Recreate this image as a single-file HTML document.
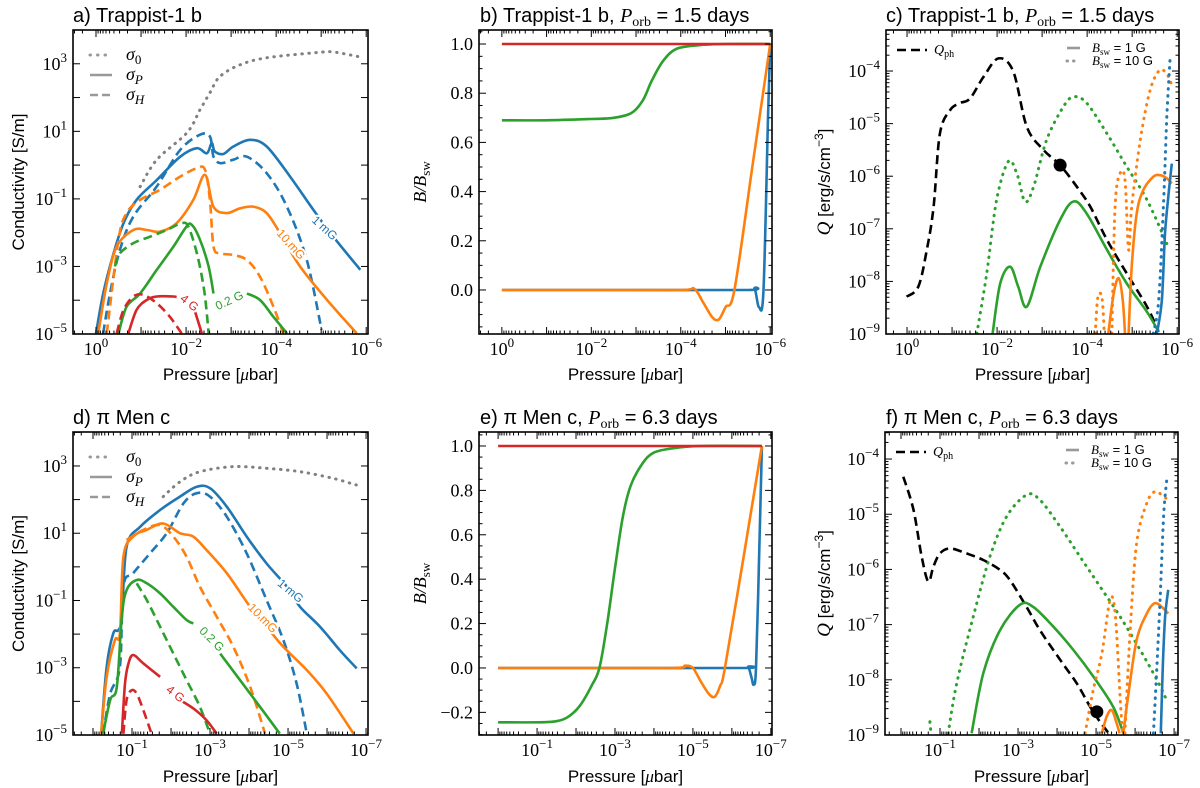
<!DOCTYPE html>
<html><head><meta charset="utf-8"><style>
html,body{margin:0;padding:0;background:#fff;}
svg{display:block;font-family:"Liberation Sans",sans-serif;}
.tl{font-family:"Liberation Serif",serif;font-size:18px;fill:#000;}
.ax{font-size:17px;fill:#000;}
.tt{font-size:20px;fill:#000;}
.cl{font-size:12px;paint-order:stroke;stroke:#fff;stroke-width:4px;}
</style></head><body>
<svg id="fig" width="1200" height="788" viewBox="0 0 1200 788" xmlns="http://www.w3.org/2000/svg"></svg>
<script>
// ===== Panel a: Trappist-1 b conductivity (log10 P [μbar], log10 σ [S/m]) =====
const a_s0_P=[-0.98,-1.35,-2.02,-2.31,-2.53,-2.75,-3.2,-3.8,-4.9,-5.27,-5.87];
const a_s0_V=[-0.64,0.16,0.96,1.64,2.14,2.62,2.97,3.18,3.33,3.35,3.2];
const a_b1P_P=[0,-0.16,-0.39,-0.61,-0.9,-1.35,-1.87,-2.24,-2.46,-2.57,-2.64,-2.83,-3.05,-3.42,-3.79,-4.31,-4.83,-5.27,-5.87];
const a_b1P_V=[-4.98,-3.8,-2.61,-1.72,-1.03,-0.44,0.25,0.5,0.35,0.65,0.4,0.33,0.55,0.75,0.55,-0.34,-1.33,-2.12,-3.1];
const a_b1H_P=[-0.16,-0.31,-0.53,-0.83,-1.35,-1.87,-2.31,-2.53,-2.61,-2.76,-3.05,-3.35,-3.79,-4.24,-4.68,-5.01];
const a_b1H_V=[-4.98,-3.8,-2.51,-1.52,-0.63,0.45,0.9,0.85,0.25,0.06,0.16,0.25,-0.24,-1.23,-2.81,-4.88];
const a_o10P_P=[-0.05,-0.24,-0.46,-0.83,-1.13,-1.42,-1.79,-2.16,-2.42,-2.61,-2.9,-3.2,-3.5,-3.79,-4.09,-4.53,-5.13,-5.79];
const a_o10P_V=[-4.98,-3.5,-2.41,-1.92,-1.92,-1.97,-1.72,-1.03,-0.29,-1.23,-1.42,-1.28,-1.23,-1.42,-2.02,-3.0,-3.99,-4.98];
const a_o10H_P=[-0.24,-0.5,-0.68,-0.98,-1.42,-1.87,-2.24,-2.42,-2.53,-2.61,-2.76,-3.05,-3.35,-3.64,-3.94,-4.16];
const a_o10H_V=[-4.98,-2.21,-1.42,-1.03,-0.73,-0.34,-0.09,-0.14,-1.03,-2.41,-2.61,-2.66,-2.81,-3.3,-4.19,-4.98];
const a_g02P_P=[-0.5,-0.68,-0.98,-1.35,-1.72,-2.01,-2.13,-2.31,-2.5,-2.61];
const a_g02P_V=[-4.98,-4.19,-3.8,-3.1,-2.41,-1.82,-1.77,-2.21,-3.0,-3.8];
const a_g02Pb_P=[-3.35,-3.64,-3.94,-4.24];
const a_g02Pb_V=[-3.8,-3.99,-4.49,-4.98];
const a_g02H_P=[-0.42,-0.53,-0.83,-1.2,-1.57,-1.9,-2.05,-2.24,-2.39,-2.46,-2.5];
const a_g02H_V=[-3.0,-2.61,-2.31,-2.12,-1.92,-1.72,-1.82,-2.61,-3.6,-4.39,-4.98];
const a_r4P_P=[-0.72,-0.9,-1.13,-1.35,-1.72,-1.79];
const a_r4P_V=[-4.98,-4.29,-3.99,-3.89,-3.89,-3.91];
const a_r4Pb_P=[-2.2,-2.35];
const a_r4Pb_V=[-4.34,-4.98];
const a_r4H_P=[-0.46,-0.61,-0.83,-1.05,-1.35,-1.64,-1.9];
const a_r4H_V=[-4.98,-4.29,-3.89,-3.84,-4.09,-4.49,-4.98];
// ===== Panel b: B/Bsw (log10 P, linear ratio) =====
const b_red_P=[0,-6];const b_red_V=[1,1];
const b_grn_P=[0,-1,-2,-2.5,-2.9,-3.15,-3.35,-3.6,-3.9,-4.4,-5,-6];
const b_grn_V=[0.69,0.69,0.695,0.70,0.72,0.77,0.85,0.93,0.98,0.995,1,1];
const b_org_P=[0,-2,-4.0,-4.3,-4.5,-4.7,-4.85,-5.0,-5.2,-5.6,-6];
const b_org_V=[0,0,0,0.005,-0.05,-0.11,-0.12,-0.07,0.0,0.5,1];
const b_blu_P=[0,-3,-5.5,-5.65,-5.75,-5.85,-5.95,-6];
const b_blu_V=[0,0,0,0.005,-0.07,0.0,0.7,1];
// ===== Panel c: heating rate (log10 P, log10 Q) =====
const c_qph_P=[0.01,-0.25,-0.44,-0.59,-0.73,-0.96,-1.18,-1.4,-1.7,-2.03,-2.36,-2.66,-3.03,-3.4,-3.77,-4.07,-4.44,-4.88,-5.33,-5.59];
const c_qph_V=[-8.29,-8.1,-7.4,-6.58,-5.19,-4.74,-4.61,-4.52,-4.11,-3.76,-4.01,-5.06,-5.5,-5.79,-6.2,-6.58,-7.21,-7.85,-8.48,-8.96];
const c_dot_P=[-3.4];const c_dot_V=[-5.79];
const c_g10_P=[-1.55,-1.77,-1.99,-2.25,-2.44,-2.62,-2.81,-3.1,-3.47,-3.7,-3.99,-4.44,-4.88,-5.33,-5.77];
const c_g10_V=[-8.99,-7.85,-6.45,-5.72,-5.95,-6.48,-6.2,-5.31,-4.68,-4.49,-4.61,-5.19,-5.82,-6.45,-7.28];
const c_g1_P=[-1.9,-2.07,-2.29,-2.47,-2.66,-2.96,-3.4,-3.7,-3.99,-4.44,-4.88,-5.33,-5.59];
const c_g1_V=[-8.99,-8.04,-7.72,-8.1,-8.48,-7.72,-6.83,-6.48,-6.71,-7.4,-8.04,-8.58,-8.96];
const c_o10a_P=[-4.18,-4.24,-4.33,-4.38];const c_o10a_V=[-8.99,-8.29,-8.32,-8.99];
const c_o10b_P=[-4.55,-4.62,-4.73,-4.84,-4.92,-4.99,-5.18,-5.4,-5.62,-5.81,-5.88];
const c_o10b_V=[-8.99,-6.58,-5.95,-6.07,-7.4,-6.58,-5.31,-4.36,-3.98,-4.11,-4.3];
const c_o1a_P=[-4.47,-4.59,-4.7,-4.79,-4.84];const c_o1a_V=[-8.99,-8.23,-7.94,-8.35,-8.99];
const c_o1b_P=[-4.92,-4.99,-5.1,-5.25,-5.47,-5.62,-5.77,-5.88];
const c_o1b_V=[-8.99,-7.72,-6.71,-6.26,-6.01,-5.98,-6.04,-6.14];
const c_b10_P=[-5.47,-5.59,-5.7,-5.77,-5.84];const c_b10_V=[-8.99,-8.35,-6.45,-4.87,-3.79];
const c_b1_P=[-5.55,-5.66,-5.73,-5.81,-5.88];const c_b1_V=[-8.99,-8.35,-7.09,-6.33,-5.76];
// ===== Panel d: pi Men c conductivity =====
const d_s0_P=[-1.8,-2.23,-2.74,-3.6,-4.45,-5.31,-6.16,-6.76];
const d_s0_V=[2.09,2.53,2.83,2.98,2.93,2.83,2.63,2.43];
const d_b1P_P=[-0.21,-0.35,-0.52,-0.65,-0.74,-0.86,-1.21,-1.72,-2.23,-2.66,-3.0,-3.43,-3.94,-4.45,-4.97,-5.31,-5.82,-6.33,-6.76];
const d_b1P_V=[-4.96,-2.97,-1.98,-1.88,-1.48,0.6,1.19,1.69,2.09,2.38,2.34,1.79,0.9,0.1,-0.59,-1.19,-1.78,-2.48,-3.02];
const d_b1H_P=[-0.26,-0.44,-0.69,-0.78,-1.03,-1.46,-1.89,-2.32,-2.66,-3.0,-3.43,-3.94,-4.45,-4.88,-5.22,-5.48];
const d_b1H_V=[-4.96,-3.77,-2.97,-0.59,-0.19,0.4,1.0,1.89,2.19,2.09,1.49,0.4,-0.99,-2.18,-3.47,-4.96];
const d_o10P_P=[-0.21,-0.35,-0.56,-0.69,-0.78,-1.03,-1.38,-1.8,-2.23,-2.57,-2.91,-3.43,-4.03,-4.45,-4.88,-5.48,-5.99,-6.68];
const d_o10P_V=[-4.96,-3.27,-2.18,-1.98,0.3,0.9,1.1,1.29,1.0,0.9,0.5,-0.19,-1.19,-1.78,-2.38,-3.07,-3.77,-4.96];
const d_o10H_P=[-0.86,-1.29,-1.72,-2.06,-2.4,-2.74,-3.17,-3.6,-4.03,-4.41];
const d_o10H_V=[0.8,1.1,1.24,0.9,0.3,-0.59,-1.48,-2.38,-3.57,-4.96];
const d_g02P_P=[-0.26,-0.44,-0.61,-0.74,-0.86,-1.12,-1.38,-1.72,-2.06,-2.4,-2.57];
const d_g02P_V=[-4.96,-3.96,-3.57,-1.48,-0.69,-0.39,-0.49,-0.79,-1.19,-1.58,-1.68];
const d_g02Pb_P=[-3.26,-3.77,-4.28,-4.79];const d_g02Pb_V=[-2.58,-3.37,-4.16,-4.96];
const d_g02H_P=[-1.12,-1.38,-1.72,-2.06,-2.4,-2.74,-3.0];
const d_g02H_V=[-0.49,-0.99,-1.78,-2.58,-3.37,-4.16,-4.96];
const d_r4P_P=[-0.74,-0.82,-0.91,-1.03,-1.29,-1.72];const d_r4P_V=[-4.96,-3.47,-2.87,-2.62,-2.87,-3.27];
const d_r4Pb_P=[-2.23,-2.57,-2.91,-3.17];const d_r4Pb_V=[-3.96,-4.21,-4.56,-4.96];
const d_r4H_P=[-0.78,-0.86,-0.99,-1.12,-1.29,-1.5];const d_r4H_V=[-4.96,-3.96,-3.67,-3.77,-4.26,-4.96];
// ===== Panel e: B/Bsw =====
const e_red_P=[0,-6.77];const e_red_V=[1,1];
const e_grn_P=[0,-1,-1.5,-1.8,-2.1,-2.4,-2.6,-2.8,-3.0,-3.2,-3.4,-3.7,-4.0,-4.5,-5.2,-6.77];
const e_grn_V=[-0.245,-0.245,-0.24,-0.22,-0.17,-0.08,0.0,0.2,0.45,0.68,0.82,0.92,0.97,0.99,1,1];
const e_org_P=[0,-2,-4.5,-4.8,-5.0,-5.2,-5.4,-5.56,-5.7,-5.82,-6.3,-6.77];
const e_org_V=[0,0,0,0.01,0.0,-0.06,-0.115,-0.13,-0.08,0,0.5,1];
const e_blu_P=[0,-3,-6.3,-6.42,-6.5,-6.56,-6.62,-6.7,-6.77];
const e_blu_V=[0,0,0,0.005,-0.04,-0.075,0.0,0.5,1];
// ===== Panel f: heating rate =====
const f_qph_P=[-0.06,-0.32,-0.53,-0.7,-0.83,-1.0,-1.26,-1.68,-2.11,-2.54,-2.79,-3.22,-3.56,-4.08,-4.5,-4.85,-5.1,-5.36];
const f_qph_V=[-4.32,-4.92,-5.77,-6.22,-5.95,-5.71,-5.62,-5.71,-5.83,-6.01,-6.19,-6.68,-7.1,-7.64,-8.06,-8.49,-8.76,-9.0];
const f_dot_P=[-5.02];const f_dot_V=[-8.58];
const f_g10s_P=[-0.74,-0.77];const f_g10s_V=[-8.76,-8.97];
const f_g10_P=[-1.21,-1.43,-1.85,-2.28,-2.71,-3.22,-3.56,-4.08,-4.59,-5.1,-5.62,-6.13,-6.56,-6.81];
const f_g10_V=[-8.97,-8.06,-6.86,-5.77,-5.04,-4.65,-4.74,-5.23,-5.77,-6.31,-6.86,-7.46,-8.0,-8.37];
const f_g1_P=[-1.81,-2.11,-2.54,-3.05,-3.39,-3.91,-4.42,-4.93,-5.44,-5.7];
const f_g1_V=[-8.97,-7.88,-7.1,-6.64,-6.68,-7.04,-7.46,-7.94,-8.49,-8.97];
const f_o10a_P=[-4.72,-4.93,-5.15,-5.36,-5.49,-5.62,-5.68];const f_o10a_V=[-8.97,-8.18,-7.52,-6.55,-6.8,-8.37,-8.97];
const f_o10b_P=[-5.74,-5.87,-6.04,-6.3,-6.51,-6.73,-6.85];const f_o10b_V=[-8.97,-7.16,-5.53,-4.8,-4.59,-4.68,-4.74];
const f_o1a_P=[-5.15,-5.27,-5.4,-5.53,-5.6];const f_o1a_V=[-8.97,-8.67,-8.55,-8.79,-8.97];
const f_o1b_P=[-5.7,-5.83,-6.04,-6.3,-6.51,-6.73,-6.85];const f_o1b_V=[-8.97,-8.25,-7.28,-6.8,-6.61,-6.71,-6.8];
const f_b10_P=[-6.47,-6.56,-6.64,-6.73,-6.81];const f_b10_V=[-8.97,-7.76,-6.55,-5.04,-4.38];
const f_b1_P=[-6.66,-6.71,-6.77,-6.85];const f_b1_V=[-8.97,-7.76,-6.86,-6.37];

const NS="http://www.w3.org/2000/svg";
const svg=document.getElementById('fig');
function mk(tag,attrs,parent){const e=document.createElementNS(NS,tag);for(const k in attrs)e.setAttribute(k,attrs[k]);(parent||svg).appendChild(e);return e;}
const BL='#1f77b4',OR='#ff7f0e',GR='#2ca02c',RD='#d62728',GY='#808080';
const DASH='9,5',DOT='0.5,6.5';

function makePanel(id,box,xr,yr,ylog){
  const p={id,box,xr,yr,ylog};
  p.x=v=>box[0]+(xr[0]-v)/(xr[0]-xr[1])*(box[1]-box[0]);
  p.y=v=>box[2]+(yr[0]-v)/(yr[0]-yr[1])*(box[3]-box[2]);
  const cp=mk('clipPath',{id:'clip-'+id});
  mk('rect',{x:box[0],y:box[2],width:box[1]-box[0],height:box[3]-box[2]},cp);
  p.g=mk('g',{'clip-path':'url(#clip-'+id+')'});
  
  
  return p;
}
function smooth(pts){
  if(pts.length<3)return 'M'+pts.map(q=>q[0].toFixed(1)+','+q[1].toFixed(1)).join('L');
  let d='M'+pts[0][0].toFixed(1)+','+pts[0][1].toFixed(1);
  for(let i=0;i<pts.length-1;i++){
    const p0=pts[i-1]||pts[i],p1=pts[i],p2=pts[i+1],p3=pts[i+2]||p2;
    const c1=[p1[0]+(p2[0]-p0[0])/6,p1[1]+(p2[1]-p0[1])/6];
    const c2=[p2[0]-(p3[0]-p1[0])/6,p2[1]-(p3[1]-p1[1])/6];
    d+='C'+c1[0].toFixed(1)+','+c1[1].toFixed(1)+' '+c2[0].toFixed(1)+','+c2[1].toFixed(1)+' '+p2[0].toFixed(1)+','+p2[1].toFixed(1);
  }
  return d;
}
function series(p,name,P,V,color,dash){
  const pts=P.map((v,i)=>[p.x(v),p.y(V[i])]);
  const el=mk('path',{d:smooth(pts),fill:'none',stroke:color,'stroke-width':dash===DOT?3:2.6,'stroke-linecap':dash===DOT?'round':'butt','stroke-linejoin':'round'},p.g);
  if(dash)el.setAttribute('stroke-dasharray',dash);
  
  
}
function dot(p,name,P,V){
  const el=mk('circle',{cx:p.x(P[0]),cy:p.y(V[0]),r:6.5,fill:'#000'},p.g);
  
  
}
function powLabel(x,y,exp,anchor,name){
  const t=mk('text',{x:x,y:y,'text-anchor':anchor,class:'tl'});
  
  
  const b=mk('tspan',{},t);b.textContent='10';
  const s=mk('tspan',{dy:-8,'font-size':13},t);s.textContent=(exp<0?'\u2212':'')+Math.abs(exp);
  return t;
}
function frame(p,xMaj,yMaj,yLin){
  const [x0,x1,y0,y1]=p.box;
  const fr=mk('rect',{x:x0,y:y0,width:x1-x0,height:y1-y0,fill:'none',stroke:'#000','stroke-width':1.6});
  
  
  const tg=mk('g',{stroke:'#000','stroke-width':1});
  
  
  const tick=(x,y,dx,dy)=>mk('line',{x1:x,y1:y,x2:x+dx,y2:y+dy},tg);
  const lo=Math.ceil(p.xr[1]-1),hi=Math.floor(p.xr[0]);
  for(let d=lo;d<=hi+1;d++){
    for(let m=1;m<10;m++){
      const v=d+Math.log10(m);if(v>p.xr[0]||v<p.xr[1])continue;
      const X=p.x(v),L=m===1?7:3.5;tick(X,y1,0,-L);tick(X,y0,0,L);
    }
  }
  xMaj.forEach(e=>powLabel(p.x(e),y1+21,e,'middle','x-tick-label'));
  if(!yLin){
    for(let d=Math.floor(p.yr[1]);d<=Math.ceil(p.yr[0]);d++){
      const step=(p.id==='c'||p.id==='f')?1:10;
      for(let m=1;m<10;m+=(step===10?9:1)){
        const v=d+Math.log10(m);if(v>p.yr[0]||v<p.yr[1])continue;
        const Y=p.y(v),L=m===1?7:3.5;tick(x0,Y,L,0);tick(x1,Y,-L,0);
      }
    }
    yMaj.forEach(e=>powLabel(x0-6,p.y(e)+6,e,'end','y-tick-label'));
  }else{
    for(let v=-0.3;v<=1.1;v+=0.05){
      const vv=Math.round(v*100)/100;if(vv>p.yr[0]||vv<p.yr[1])continue;
      const major=Math.abs(Math.round(vv*100)%20)===0;const L=major?7:3.5;
      tick(x0,p.y(vv),L,0);tick(x1,p.y(vv),-L,0);
    }
    yMaj.forEach(v=>{const t=mk('text',{x:x0-6,y:p.y(v)+6,'text-anchor':'end',class:'tl'});t.textContent=(v<0?'\u2212':'')+Math.abs(v).toFixed(1);
      });
  }
}
function txt(x,y,s,cls,name,extra){const t=mk('text',Object.assign({x:x,y:y,class:cls},extra||{}));t.textContent=s;return t;}
function title(x,y,pre,post,name){
  const t=mk('text',{x:x,y:y,class:'tt'});
  const a=mk('tspan',{},t);a.textContent=pre;
  if(post){const b=mk('tspan',{'font-family':'Liberation Serif,serif','font-style':'italic'},t);b.textContent='P';
    const c=mk('tspan',{dy:4,'font-size':14,'font-family':'Liberation Serif,serif'},t);c.textContent='orb';
    const d=mk('tspan',{dy:-4},t);d.textContent=' = '+post;}
}
function xlabel(p,y){const cx=(p.box[0]+p.box[1])/2;const t=mk('text',{x:cx,y:y,'text-anchor':'middle',class:'ax'});
  const a=mk('tspan',{},t);a.textContent='Pressure [';const m=mk('tspan',{'font-family':'Liberation Serif,serif','font-style':'italic'},t);m.textContent='\u03bc';const b=mk('tspan',{},t);b.textContent='bar]';}
function ylabelCond(p){const cy=(p.box[2]+p.box[3])/2;txt(0,0,'Conductivity [S/m]','ax','y-axis-title',{'text-anchor':'middle',transform:'translate(24,'+cy+') rotate(-90)'});}
function ylabelB(p){const cy=(p.box[2]+p.box[3])/2;const t=mk('text',{'text-anchor':'middle',transform:'translate(426,'+cy+') rotate(-90)','font-family':'Liberation Serif,serif','font-size':18,'font-style':'italic'});
  
  const a=mk('tspan',{},t);a.textContent='B/B';const b=mk('tspan',{dy:4,'font-size':13,'font-style':'normal'},t);b.textContent='sw';}
function ylabelQ(p){const cy=(p.box[2]+p.box[3])/2;const t=mk('text',{'text-anchor':'middle',transform:'translate(830,'+cy+') rotate(-90)',class:'ax'});
  
  const q=mk('tspan',{'font-family':'Liberation Serif,serif','font-style':'italic','font-size':19},t);q.textContent='Q';
  const a=mk('tspan',{},t);a.textContent=' [erg/s/cm';const s=mk('tspan',{dy:-7,'font-size':12},t);s.textContent='\u22123';const c=mk('tspan',{dy:7},t);c.textContent=']';}
function condLegend(p){
  const x=p.box[0]+17,y=p.box[2]+25;
  const g=mk('g',{});
  [[DOT,'0'],[null,'P'],[DASH,'H']].forEach((it,i)=>{
    const l=mk('line',{x1:x,y1:y+i*20,x2:x+22,y2:y+i*20,stroke:'#999','stroke-width':it[0]===DOT?3:2.6,'stroke-linecap':it[0]===DOT?'round':'butt'},g);
    if(it[0])l.setAttribute('stroke-dasharray',it[0]===DOT?'0.5,7':'8,4');
    const t=mk('text',{x:x+36,y:y+i*20+5,'font-family':'Liberation Serif,serif','font-size':18,'font-style':'italic'},g);
    
    const a=mk('tspan',{},t);a.textContent='\u03c3';const b=mk('tspan',{dy:4,'font-size':13,'font-style':it[1]==='0'?'normal':'italic'},t);b.textContent=it[1];
  });
}
function qLegend(p){
  const g=mk('g',{});
  const x=p.box[0]+11,y=p.box[2]+20;
  mk('line',{x1:x,y1:y,x2:x+30,y2:y,stroke:'#000','stroke-width':2.6,'stroke-dasharray':'9,5'},g);
  const t=mk('text',{x:x+37,y:y+4,'font-family':'Liberation Serif,serif','font-size':14,'font-style':'italic'},g);
  
  const a=mk('tspan',{},t);a.textContent='Q';const b=mk('tspan',{dy:3,'font-size':10,'font-style':'normal'},t);b.textContent='ph';
  const rx=p.box[1]-112;
  [[null,'1 G'],[DOT,'10 G']].forEach((it,i)=>{
    const yy=y-2+i*13;
    const l=mk('line',{x1:rx,y1:yy,x2:rx+13,y2:yy,stroke:'#999','stroke-width':it[0]?3:2.6,'stroke-linecap':it[0]?'round':'butt'},g);
    if(it[0])l.setAttribute('stroke-dasharray','0.5,6');
    const t2=mk('text',{x:rx+25,y:yy+4,'font-size':13},g);
    
    const a2=mk('tspan',{'font-family':'Liberation Serif,serif','font-style':'italic'},t2);a2.textContent='B';
    const s2=mk('tspan',{dy:3,'font-size':9,'font-family':'Liberation Serif,serif'},t2);s2.textContent='sw';
    const r2=mk('tspan',{dy:-3},t2);r2.textContent=' = '+it[1];
  });
}
function curveLabel(x,y,rot,s,color){txt(x,y,s,'cl','curve-label',{fill:color,'text-anchor':'middle',transform:'rotate('+rot+' '+x+' '+y+')'});}

const A=makePanel('a',[73,368,30,334],[0.511,-6.04],[4.0,-5.0],true);
const B=makePanel('b',[479,772,30,334],[0.511,-6.04],[1.057,-0.179],false);
const C=makePanel('c',[886,1179,30,334],[0.467,-6.04],[-3.22,-9.0],true);
const D=makePanel('d',[73,368,432,735],[0.513,-7.05],[4.01,-5.0],true);
const E=makePanel('e',[479,772,432,735],[0.49,-7.03],[1.063,-0.302],false);
const F=makePanel('f',[885,1178,432,735],[0.41,-7.1],[-3.51,-9.0],true);

series(A,'sigma0',a_s0_P,a_s0_V,GY,DOT);
series(A,'sigmaP-1mG',a_b1P_P,a_b1P_V,BL,null);
series(A,'sigmaH-1mG',a_b1H_P,a_b1H_V,BL,DASH);
series(A,'sigmaP-10mG',a_o10P_P,a_o10P_V,OR,null);
series(A,'sigmaH-10mG',a_o10H_P,a_o10H_V,OR,DASH);
series(A,'sigmaP-0.2G',a_g02P_P,a_g02P_V,GR,null);
series(A,'sigmaP-0.2G-b',a_g02Pb_P,a_g02Pb_V,GR,null);
series(A,'sigmaH-0.2G',a_g02H_P,a_g02H_V,GR,DASH);
series(A,'sigmaP-4G',a_r4P_P,a_r4P_V,RD,null);
series(A,'sigmaP-4G-b',a_r4Pb_P,a_r4Pb_V,RD,null);
series(A,'sigmaH-4G',a_r4H_P,a_r4H_V,RD,DASH);

series(B,'ratio-1mG',b_blu_P,b_blu_V,BL,null);
series(B,'ratio-10mG',b_org_P,b_org_V,OR,null);
series(B,'ratio-0.2G',b_grn_P,b_grn_V,GR,null);
series(B,'ratio-4G',b_red_P,b_red_V,RD,null);

series(C,'q-ph',c_qph_P,c_qph_V,'#000',DASH);
series(C,'q-0.2G-10G',c_g10_P,c_g10_V,GR,DOT);
series(C,'q-0.2G-1G',c_g1_P,c_g1_V,GR,null);
series(C,'q-10mG-10G-a',c_o10a_P,c_o10a_V,OR,DOT);
series(C,'q-10mG-10G-b',c_o10b_P,c_o10b_V,OR,DOT);
series(C,'q-10mG-1G-a',c_o1a_P,c_o1a_V,OR,null);
series(C,'q-10mG-1G-b',c_o1b_P,c_o1b_V,OR,null);
series(C,'q-1mG-10G',c_b10_P,c_b10_V,BL,DOT);
series(C,'q-1mG-1G',c_b1_P,c_b1_V,BL,null);
dot(C,'transition-point',c_dot_P,c_dot_V);

series(D,'sigma0',d_s0_P,d_s0_V,GY,DOT);
series(D,'sigmaP-1mG',d_b1P_P,d_b1P_V,BL,null);
series(D,'sigmaH-1mG',d_b1H_P,d_b1H_V,BL,DASH);
series(D,'sigmaP-10mG',d_o10P_P,d_o10P_V,OR,null);
series(D,'sigmaH-10mG',d_o10H_P,d_o10H_V,OR,DASH);
series(D,'sigmaP-0.2G',d_g02P_P,d_g02P_V,GR,null);
series(D,'sigmaP-0.2G-b',d_g02Pb_P,d_g02Pb_V,GR,null);
series(D,'sigmaH-0.2G',d_g02H_P,d_g02H_V,GR,DASH);
series(D,'sigmaP-4G',d_r4P_P,d_r4P_V,RD,null);
series(D,'sigmaP-4G-b',d_r4Pb_P,d_r4Pb_V,RD,null);
series(D,'sigmaH-4G',d_r4H_P,d_r4H_V,RD,DASH);

series(E,'ratio-1mG',e_blu_P,e_blu_V,BL,null);
series(E,'ratio-10mG',e_org_P,e_org_V,OR,null);
series(E,'ratio-0.2G',e_grn_P,e_grn_V,GR,null);
series(E,'ratio-4G',e_red_P,e_red_V,RD,null);

series(F,'q-ph',f_qph_P,f_qph_V,'#000',DASH);
series(F,'q-0.2G-10G-stub',f_g10s_P,f_g10s_V,GR,DOT);
series(F,'q-0.2G-10G',f_g10_P,f_g10_V,GR,DOT);
series(F,'q-0.2G-1G',f_g1_P,f_g1_V,GR,null);
series(F,'q-10mG-10G-a',f_o10a_P,f_o10a_V,OR,DOT);
series(F,'q-10mG-10G-b',f_o10b_P,f_o10b_V,OR,DOT);
series(F,'q-10mG-1G-a',f_o1a_P,f_o1a_V,OR,null);
series(F,'q-10mG-1G-b',f_o1b_P,f_o1b_V,OR,null);
series(F,'q-1mG-10G',f_b10_P,f_b10_V,BL,DOT);
series(F,'q-1mG-1G',f_b1_P,f_b1_V,BL,null);
dot(F,'transition-point',f_dot_P,f_dot_V);

frame(A,[0,-2,-4,-6],[3,1,-1,-3,-5],false);
frame(B,[0,-2,-4,-6],[0.0,0.2,0.4,0.6,0.8,1.0],true);
frame(C,[0,-2,-4,-6],[-4,-5,-6,-7,-8,-9],false);
frame(D,[-1,-3,-5,-7],[3,1,-1,-3,-5],false);
frame(E,[-1,-3,-5,-7],[-0.2,0.0,0.2,0.4,0.6,0.8,1.0],true);
frame(F,[-1,-3,-5,-7],[-4,-5,-6,-7,-8,-9],false);

[A,B,C].forEach(p=>xlabel(p,380));[D,E,F].forEach(p=>xlabel(p,782));
ylabelCond(A);ylabelCond(D);ylabelB(B);ylabelB(E);ylabelQ(C);ylabelQ(F);
condLegend(A);condLegend(D);qLegend(C);qLegend(F);

title(73,22,'a) Trappist-1 b',null,'panel-a-title');
title(480,22,'b) Trappist-1 b, ','1.5 days','panel-b-title');
title(886,22,'c) Trappist-1 b, ','1.5 days','panel-c-title');
title(73,424,'d) \u03c0 Men c',null,'panel-d-title');
title(480,424,'e) \u03c0 Men c, ','6.3 days','panel-e-title');
title(886,424,'f) \u03c0 Men c, ','6.3 days','panel-f-title');

curveLabel(322,231,42,'1 mG',BL);curveLabel(288,247,48,'10 mG',OR);
curveLabel(231,304,-25,'0.2 G',GR);curveLabel(187,306,38,'4 G',RD);
curveLabel(288,594,40,'1 mG',BL);curveLabel(260,621,45,'10 mG',OR);
curveLabel(209,642,45,'0.2 G',GR);curveLabel(173,697,38,'4 G',RD);
</script>
</body></html>
